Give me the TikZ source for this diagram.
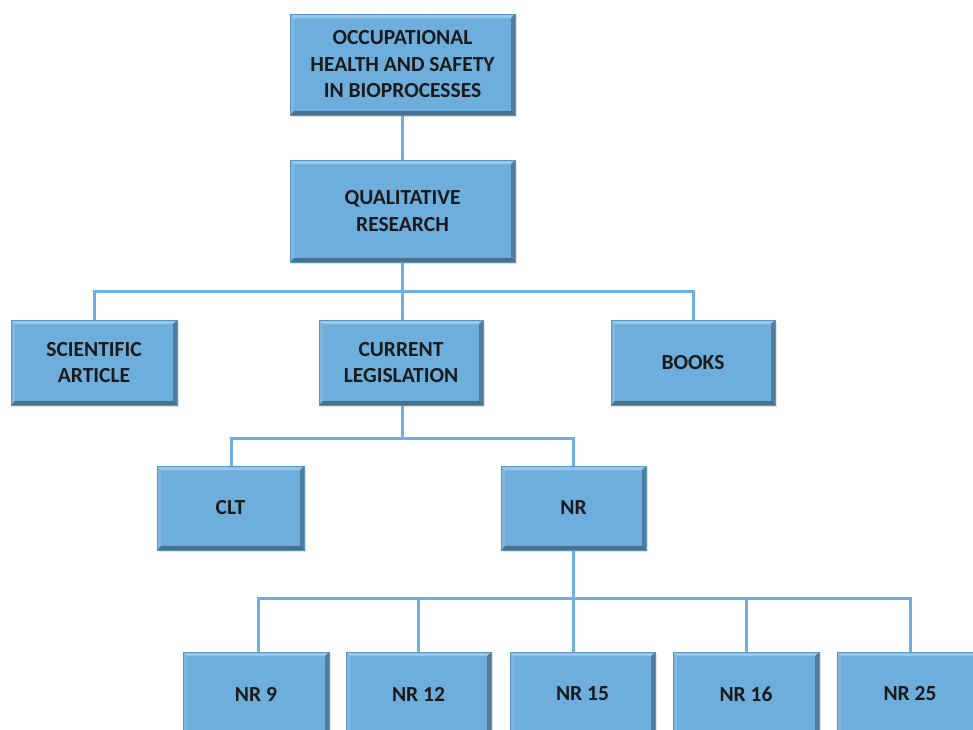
\documentclass[tikz,border=0pt]{standalone}
\usepackage{fontspec}
\setmainfont{Carlito}
\usetikzlibrary{shadows}
\definecolor{boxfill}{HTML}{6EAEDD}
\definecolor{boxedge}{HTML}{5A93C0}
\definecolor{linkc}{HTML}{6DAFE0}
\definecolor{txt}{HTML}{1C1A1B}
\tikzset{
  box/.style={draw=boxedge, line width=0.6pt, fill=boxfill, inner sep=2pt,
    align=center, text=txt, font=\bfseries\fontsize{21.5}{26.5}\selectfont,
    drop shadow={opacity=0.22, shadow xshift=2pt, shadow yshift=-2pt},
    path picture={
      \fill[white,opacity=0.30] (path picture bounding box.north west) -- (path picture bounding box.north east)
        -- ([xshift=-4pt,yshift=-4pt]path picture bounding box.north east) -- ([xshift=4pt,yshift=-4pt]path picture bounding box.north west) -- cycle;
      \fill[white,opacity=0.12] (path picture bounding box.north west) -- ([xshift=4pt,yshift=-4pt]path picture bounding box.north west)
        -- ([xshift=4pt,yshift=4pt]path picture bounding box.south west) -- (path picture bounding box.south west) -- cycle;
      \fill[black,opacity=0.28] (path picture bounding box.north east) -- (path picture bounding box.south east)
        -- ([xshift=-4pt,yshift=4pt]path picture bounding box.south east) -- ([xshift=-4pt,yshift=-4pt]path picture bounding box.north east) -- cycle;
      \fill[black,opacity=0.35] (path picture bounding box.south west) -- (path picture bounding box.south east)
        -- ([xshift=-4pt,yshift=4pt]path picture bounding box.south east) -- ([xshift=4pt,yshift=4pt]path picture bounding box.south west) -- cycle;
    }},
  link/.style={draw=linkc, line width=3pt}
}
\begin{document}
\begin{tikzpicture}[x=1pt,y=-1pt]
\useasboundingbox (0,0) rectangle (973,729);
\fill[white] (0,0) rectangle (973,729);
\begin{scope}
\clip (0,0) rectangle (973,729);
% junction coordinates
\coordinate (j1) at (402,291);
\coordinate (j1l) at (94,291);
\coordinate (j1r) at (693,291);
\coordinate (j2) at (402,438);
\coordinate (j2l) at (231,438);
\coordinate (j2r) at (573,438);
\coordinate (j3) at (573,598);
\coordinate (j3a) at (258,598);
\coordinate (j3b) at (418,598);
\coordinate (j3d) at (746,598);
\coordinate (j3e) at (910,598);
% connectors
\draw[link] (402,115) -- (402,160);
\draw[link] (402,262) -- (j1);
\draw[link] ([xshift=-1.5pt]j1l) -- ([xshift=1.5pt]j1r);
\draw[link] (j1l) -- (94,320);
\draw[link] (j1) -- (402,320);
\draw[link] (j1r) -- (693,320);
\draw[link] (402,405) -- (j2);
\draw[link] ([xshift=-1.5pt]j2l) -- ([xshift=1.5pt]j2r);
\draw[link] (j2l) -- (231,466);
\draw[link] (j2r) -- (573,466);
\draw[link] (573,550) -- (j3);
\draw[link] ([xshift=-1.5pt]j3a) -- ([xshift=1.5pt]j3e);
\foreach \c/\x in {j3a/258,j3b/418,j3/573,j3d/746,j3e/910}{\draw[link] (\c) -- (\x,652);}
% boxes
\node[box, minimum width=225pt, minimum height=101pt] (ohs) at (402.5,64.5) {OCCUPATIONAL\\HEALTH AND SAFETY\\IN BIOPROCESSES};
\node[box, minimum width=225pt, minimum height=102pt] (qr) at (402.5,211) {QUALITATIVE\\RESEARCH};
\node[box, minimum width=166pt, minimum height=85pt] (sa) at (94,362.5) {SCIENTIFIC\\ARTICLE};
\node[box, minimum width=164pt, minimum height=85pt] (cl) at (401,362.5) {CURRENT\\LEGISLATION};
\node[box, minimum width=164pt, minimum height=85pt] (bk) at (693,362.5) {BOOKS};
\node[box, minimum width=147pt, minimum height=84pt] (clt) at (230.5,508) {CLT};
\node[box, minimum width=145pt, minimum height=84pt] (nr) at (573.5,508) {NR};
\node[box, minimum width=146pt, minimum height=84pt] (nr9) at (256,694) {NR 9};
\node[box, minimum width=145pt, minimum height=84pt] (nr12) at (418.5,694) {NR 12};
\node[box, minimum width=145pt, minimum height=84pt] (nr15) at (582.5,694) {NR 15};
\node[box, minimum width=146pt, minimum height=84pt] (nr16) at (746,694) {NR 16};
\node[box, minimum width=146pt, minimum height=84pt] (nr25) at (910,694) {NR 25};
\end{scope}
\end{tikzpicture}
\end{document}
